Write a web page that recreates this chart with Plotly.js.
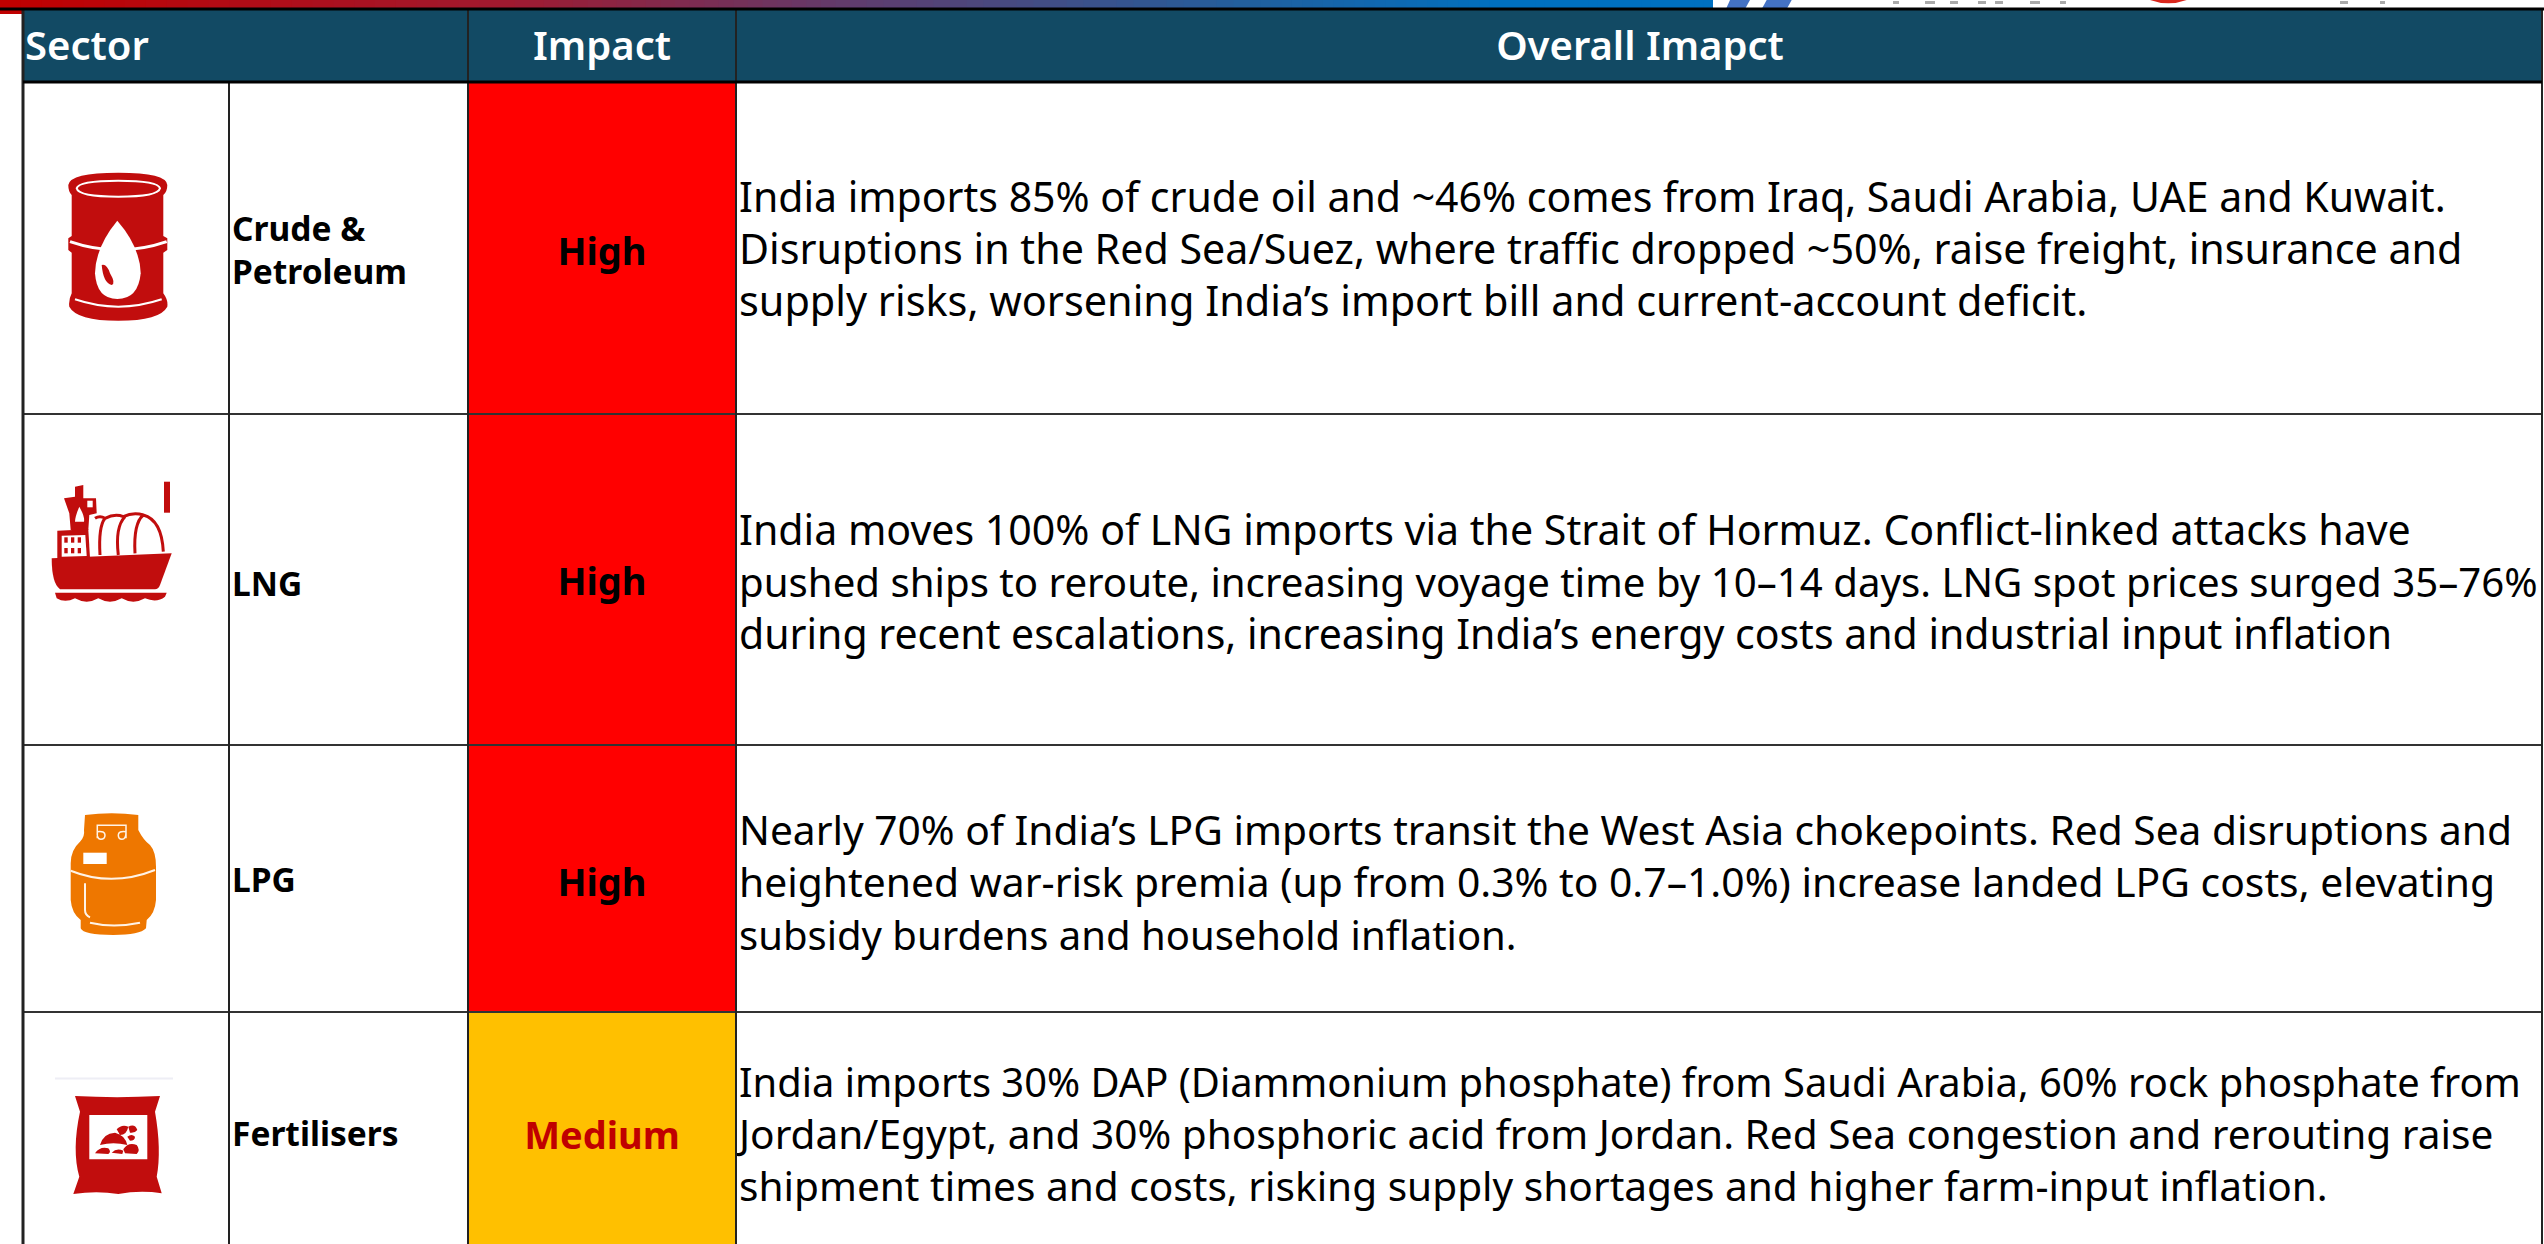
<!DOCTYPE html>
<html><head><meta charset="utf-8">
<script src="https://cdn.plot.ly/plotly-3.0.1.min.js"></script>
<style>html,body{margin:0;padding:0;background:#fff}#c{width:2544px;height:1244px}</style></head>
<body><div id="c"></div>
<script>
// ---- content ----
var headers = ["Sector", "Impact", "Overall Imapct"];
var sectors = ["Crude &<br>Petroleum", "LNG", "LPG", "Fertilisers"];
var impacts = ["High", "High", "High", "Medium"];
var overall = [
 ["India imports 85% of crude oil and ~46% comes from Iraq, Saudi Arabia, UAE and Kuwait.",
  "Disruptions in the Red Sea/Suez, where traffic dropped ~50%, raise freight, insurance and",
  "supply risks, worsening India’s import bill and current-account deficit."],
 ["India moves 100% of LNG imports via the Strait of Hormuz. Conflict-linked attacks have",
  "pushed ships to reroute, increasing voyage time by 10–14 days. LNG spot prices surged 35–76%",
  "during recent escalations, increasing India’s energy costs and industrial input inflation"],
 ["Nearly 70% of India’s LPG imports transit the West Asia chokepoints. Red Sea disruptions and",
  "heightened war-risk premia (up from 0.3% to 0.7–1.0%) increase landed LPG costs, elevating",
  "subsidy burdens and household inflation."],
 ["India imports 30% DAP (Diammonium phosphate) from Saudi Arabia, 60% rock phosphate from",
  "Jordan/Egypt, and 30% phosphoric acid from Jordan. Red Sea congestion and rerouting raise",
  "shipment times and costs, risking supply shortages and higher farm-input inflation."]
];
// ---- layout ----
var W = 2544, H = 1244;
var colX = [23, 229, 468, 736, 2542];
var rowY = [9, 82, 414, 745, 1012, 1244];
var lineCentres = [[202,254,306],[535,587,639],[835,887,940],[1087,1139,1191]];
var lineSizes = [[41,41.2,41.4],[41.1,40.2,41],[40.7,40.8,40],[39.9,40.6,40.6]];
var sectorY = [254, 588, 884, 1138];
var impactY = [255, 585, 886, 1139];
var impactFill = {High:"#FF0000", Medium:"#FFC000"};
var impactInk = {High:"#000000", Medium:"#C00000"};
var FONT = "'Noto Sans', sans-serif";
var LABEL = 33.5, IMPACT = 38, HEAD = 40;

var shapes = [];
function rect(x0,y0,x1,y1,fill){shapes.push({type:"rect",xref:"x",yref:"y",x0:x0,y0:y0,x1:x1,y1:y1,fillcolor:fill,line:{width:0},layer:"below"});}
function seg(x0,y0,x1,y1,col,w){shapes.push({type:"line",xref:"x",yref:"y",x0:x0,y0:y0,x1:x1,y1:y1,line:{color:col,width:w},layer:"above"});}
function mix(a,b,t){var f=function(h,i){return parseInt(h.substr(1+2*i,2),16)};var o="#";for(var i=0;i<3;i++){var v=Math.round(f(a,i)+(f(b,i)-f(a,i))*t);o+=(v<16?"0":"")+v.toString(16);}return o;}
// icon path drawn in 3x crop units, offset to its place
function icon(d,ox,oy,fill,stroke,sw){
  var p=d.replace(/(-?\d+\.?\d*) (-?\d+\.?\d*)/g,function(m,a,b){return (ox+a/3).toFixed(1)+" "+(oy+b/3).toFixed(1)});
  shapes.push({type:"path",xref:"x",yref:"y",path:p,fillcolor:fill||"rgba(0,0,0,0)",line:{color:stroke||"rgba(0,0,0,0)",width:stroke?(sw||2):0},layer:"above"});
}
// top strip
var stops=[[0,"#C00000"],[500,"#A01A30"],[850,"#5F3C6E"],[1250,"#20609F"],[1500,"#0070C0"],[1712,"#0070C0"]];
rect(0,0,23,14,"#C00000");
for(var s=0;s<stops.length-1;s++){var n=24;for(var k=0;k<n;k++){var a=stops[s],b=stops[s+1];
  rect(a[0]+(b[0]-a[0])*k/n,0,a[0]+(b[0]-a[0])*(k+1)/n+1,9,mix(a[1],b[1],k/n));}}
icon("M5178 0 L5244 0 L5226 27 L5160 27 Z",0,0,"#FFFFFF");
icon("M5190 0 L5250 0 L5235 27 L5178 27 Z",0,0,"#4472C4");
icon("M5300 0 L5375 0 L5360 27 L5285 27 Z",0,0,"#4472C4");
// cells
rect(colX[0],rowY[0],colX[4],rowY[1],"#124A64");
for(var r=0;r<4;r++) rect(colX[2],rowY[r+1],colX[3],rowY[r+2],impactFill[impacts[r]]);
// grid
for(var r=2;r<5;r++) seg(colX[0],rowY[r],colX[4],rowY[r],"#333333",2);
for(var c=1;c<4;c++) seg(colX[c],c==1?rowY[1]:rowY[0],colX[c],H,"#222222",2);
seg(colX[0],rowY[0],colX[0],H,"#222222",3);
seg(colX[4],rowY[0],colX[4],H,"#222222",2);
seg(0,rowY[0],W,rowY[0],"#000000",3);
seg(colX[0],rowY[1],colX[4],rowY[1],"#000000",3);
// barrel
var RED="#C10D0D", ORG="#EE7700";
icon("M85 105 Q90 68 235 68 Q380 68 382 105 Q382 125 370 135 L370 258 L382 265 L382 300 L370 308 L370 430 Q385 450 382 470 Q360 512 235 512 Q110 512 88 470 Q85 450 95 430 L95 308 L85 300 L85 265 L95 258 L95 135 Q85 125 85 105 Z",40,150,RED);
icon("M110 115 Q115 92 235 92 Q355 92 360 115 Q355 140 235 140 Q115 140 110 115 Z",40,150,null,"#FFFFFF",2);
icon("M90 275 Q235 325 380 275",40,150,null,"#FFFFFF",3);
icon("M105 448 Q235 492 365 448",40,150,null,"#FFFFFF",2);
icon("M232 212 Q300 290 302 370 Q295 447 232 447 Q170 447 165 370 Q167 290 232 212 Z",40,150,"#FFFFFF");
icon("M185 345 Q200 340 210 370 Q228 400 215 405 Q190 400 185 345 Z",40,150,RED);
// ship
var sx=40, sy=470;
icon("M35 265 L395 250 L360 345 Q355 358 345 358 L60 358 Q35 340 35 265 Z",sx,sy,RED);
icon("M45 368 L380 368 L375 380 Q350 400 315 385 Q280 405 245 385 Q210 405 175 385 Q140 405 105 385 Q75 400 50 385 Z",sx,sy,RED);
icon("M372 35 L390 35 L390 128 L372 128 Z",sx,sy,RED);
icon("M52 182 L145 178 L150 265 L52 265 Z",sx,sy,RED);
icon("M65 197 L136 195 L140 258 L65 260 Z",sx,sy,"#FFFFFF");
icon("M72 85 L105 80 L105 50 L130 45 L130 85 L168 85 L170 130 L148 135 L145 180 L92 180 L88 130 Z",sx,sy,RED);
icon("M118 110 Q135 140 132 155 L105 155 Q105 140 118 110 Z",sx,sy,"#FFFFFF");
icon("M142 92 L158 92 L158 112 L142 112 Z",sx,sy,"#FFFFFF");
icon("M180 255 Q175 170 195 145 M235 255 Q225 170 255 140 M285 250 Q280 160 310 135 Q365 150 370 245 M165 145 Q180 135 195 145 Q225 130 250 140 Q280 125 310 135",sx,sy,null,RED,3);
[[78,210],[98,210],[118,210],[78,242],[98,242],[118,242]].forEach(function(q){
  icon("M"+(q[0]-5)+" "+(q[1]-8)+" L"+(q[0]+5)+" "+(q[1]-8)+" L"+(q[0]+5)+" "+(q[1]+8)+" L"+(q[0]-5)+" "+(q[1]+8)+" Z",sx,sy,RED);
});
// cylinder
var cx=40, cy=800;
icon("M135 45 Q215 35 295 45 L295 90 Q310 120 330 135 Q348 155 348 200 L348 300 Q345 340 320 360 L318 385 Q300 405 220 405 Q130 405 122 385 L122 360 Q95 340 92 300 L92 190 Q92 150 120 125 Q135 110 132 90 Z",cx,cy,ORG);
icon("M130 158 L200 158 L200 192 L130 192 Z",cx,cy,"#FFFFFF");
icon("M92 212 Q215 262 345 210 M135 250 L135 330 Q135 345 150 352 M150 368 Q220 385 300 368",cx,cy,null,"#FFF3E6",2);
icon("M172 115 L172 76 L258 76 L258 115 M172 95 Q195 92 195 105 Q195 118 182 118 Q170 118 172 95 M258 95 Q235 92 235 105 Q235 118 246 118 Q258 118 258 95",cx,cy,null,"#FFF3E6",1.5);
// bag
var bx=40, by=1070;
rect(bx+15,by+7.5,bx+133,by+9.5,"#EEEEF5");
icon("M105 78 Q230 85 360 78 L345 125 Q365 240 350 320 L365 370 Q300 360 235 372 Q170 362 100 372 L118 320 Q95 240 120 125 Z",bx,by,RED);
icon("M148 135 L322 135 L322 268 L148 268 Z",bx,by,"#FFFFFF");
icon("M180 225 Q190 190 225 188 Q255 195 262 225 Q220 215 180 225 Z M165 250 Q180 228 205 235 Q215 245 205 252 Z M215 248 Q230 232 250 242 L247 252 Z M250 238 Q265 215 290 225 Q302 240 290 252 L255 250 Z M230 178 Q245 162 265 170 Q260 195 240 195 Z M265 170 Q285 160 292 180 Q285 190 270 188 Z M262 200 Q275 190 285 200 Q285 212 270 212 Z",bx,by,RED);
// top-right fragments
[[1893,1899],[1925,1935],[1950,1958],[1978,1986],[1995,2003],[2030,2040],[2060,2066],[2340,2348],[2380,2385]].forEach(function(g){
  rect(g[0],1,g[1],4,"#AAAAAA");
});
icon("M6450 0 L6560 0 Q6505 20 6450 0 Z",0,0,"#D9261C");

// ---- text through scatter traces ----
var tx=[],ty=[],tt=[],ts=[];
overall.forEach(function(ls,r){ls.forEach(function(l,i){tx.push(colX[3]+3);ty.push(lineCentres[r][i]);tt.push(l);ts.push(lineSizes[r][i]);});});
var body={type:"scatter",mode:"text",x:tx,y:ty,text:tt,textposition:"middle right",cliponaxis:false,hoverinfo:"skip",showlegend:false,
  textfont:{family:FONT,size:ts,color:"#000000"}};
var labels={type:"scatter",mode:"text",x:sectors.map(function(){return colX[1]+3}),y:sectorY,text:sectors,textposition:"middle right",cliponaxis:false,hoverinfo:"skip",showlegend:false,
  textfont:{family:FONT,size:LABEL,color:"#000000",weight:700}};
var imp={type:"scatter",mode:"text",x:impacts.map(function(){return (colX[2]+colX[3])/2}),y:impactY,text:impacts,textposition:"middle center",cliponaxis:false,hoverinfo:"skip",showlegend:false,
  textfont:{family:FONT,size:IMPACT,weight:700,color:impacts.map(function(v){return impactInk[v]})}};
var head={type:"scatter",mode:"text",x:[colX[0]+2,(colX[2]+colX[3])/2,1640],y:[50,50,50],text:headers,textposition:["middle right","middle center","middle center"],cliponaxis:false,hoverinfo:"skip",showlegend:false,
  textfont:{family:FONT,size:HEAD,color:"#FFFFFF",weight:600}};

Plotly.newPlot("c",[body,labels,imp,head],{
  width:W,height:H,margin:{l:0,r:0,t:0,b:0,pad:0},paper_bgcolor:"#FFFFFF",plot_bgcolor:"#FFFFFF",showlegend:false,
  xaxis:{range:[0,W],visible:false,fixedrange:true},
  yaxis:{range:[H,0],visible:false,fixedrange:true},
  shapes:shapes
},{displayModeBar:false,staticPlot:true});
</script></body></html>
